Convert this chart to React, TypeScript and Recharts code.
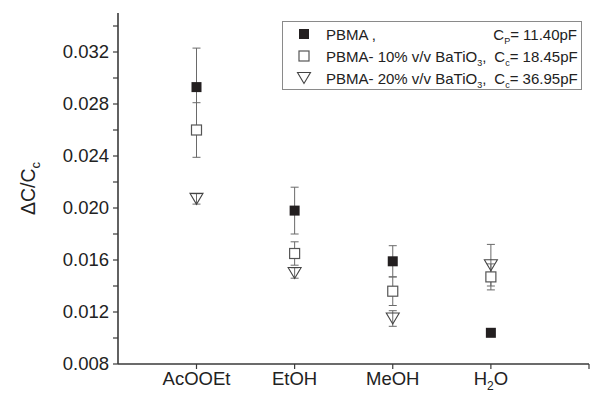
import { ErrorBar, Scatter, ScatterChart, XAxis, YAxis } from "recharts";

// solvent vapours, placed at x = 1..4
const solvents = ["AcOOEt", "EtOH", "MeOH", "H2O"];
const solventX = [1, 2, 3, 4];

// relative capacitance change and its error, per film
const pbma = [0.0293, 0.0198, 0.0159, 0.0104];
const pbmaErr = [0.003, 0.0018, 0.0012, 0];
const bt10 = [0.026, 0.0165, 0.0136, 0.0147];
const bt10Err = [0.0021, 0.0009, 0.0011, 0.001];
const bt20 = [0.0207, 0.015, 0.0115, 0.0156];
const bt20Err = [0.0004, 0.0004, 0.0006, 0.0016];

const yTicks = [0.008, 0.01, 0.012, 0.014, 0.016, 0.018, 0.02, 0.022, 0.024, 0.026, 0.028, 0.03, 0.032, 0.034];
const yLabelled = [0.008, 0.012, 0.016, 0.02, 0.024, 0.028, 0.032];
const xTicks = [1, 2, 3, 4, 5];

const FONT = "'Liberation Sans', Arial, sans-serif";
const AXIS = "#3a3a3a";
const ERR = "#6a6a6a";

const rows = (vals: number[], errs: number[]) =>
  vals.map((v, i) => ({ x: solventX[i], y: v, err: errs[i] }));

const pbmaRows = rows(pbma, pbmaErr);
const bt10Rows = rows(bt10, bt10Err);
const bt20Rows = rows(bt20, bt20Err);

const FilledSquare = ({ cx, cy }: any) => (
  <rect x={cx - 5} y={cy - 5} width={10} height={10} fill="#231f20" />
);

const OpenSquare = ({ cx, cy }: any) => (
  <rect x={cx - 5} y={cy - 5} width={10} height={10} fill="#fff" stroke="#555" strokeWidth={1.2} />
);

// hollow, so its own error bar shows through
const DownTriangle = ({ cx, cy }: any) => (
  <path
    d={`M${cx - 6.5},${cy - 5.5} L${cx + 6.5},${cy - 5.5} L${cx},${cy + 5.5} Z`}
    fill="none"
    stroke="#444"
    strokeWidth={1.1}
  />
);

function XTick({ x, y, payload }: any) {
  const name = solvents[solventX.indexOf(payload.value)];
  if (!name) return null;
  if (name === "H2O") {
    return (
      <text x={x} y={y + 14} textAnchor="middle" fontSize={18.5} fontFamily={FONT} fill="#222">
        H<tspan fontSize={12} dy={5}>2</tspan>
        <tspan dy={-5}>O</tspan>
      </text>
    );
  }
  return (
    <text x={x} y={y + 14} textAnchor="middle" fontSize={18.5} fontFamily={FONT} fill="#222">
      {name}
    </text>
  );
}

function YTick({ x, y, payload }: any) {
  const v = payload.value;
  if (!yLabelled.some((t) => Math.abs(t - v) < 1e-6)) return null;
  return (
    <text x={x} y={y + 6} textAnchor="end" fontSize={18.5} fontFamily={FONT} fill="#222">
      {v.toFixed(3)}
    </text>
  );
}

function YTitle({ viewBox }: any) {
  const cx = 35;
  const cy = viewBox.y + viewBox.height / 2;
  return (
    <text x={cx} y={cy} transform={`rotate(-90 ${cx} ${cy})`} textAnchor="middle" fontSize={19.5} fontFamily={FONT} fill="#222">
      ΔC/C<tspan fontSize={13} dy={5}>c</tspan>
    </text>
  );
}

// legend box drawn over the top-right corner of the plot
function LegendBox() {
  const row = (marker: any, left: any, right: any) => (
    <div style={{ display: "flex", alignItems: "center", height: 22 }}>
      <svg width={43} height={22} style={{ flex: "none" }}>
        {marker}
      </svg>
      <span style={{ flex: 1, whiteSpace: "nowrap" }}>{left}</span>
      <span style={{ whiteSpace: "nowrap", paddingLeft: 8, paddingRight: 4 }}>{right}</span>
    </div>
  );
  const sub = (s: string) => (
    <sub style={{ fontSize: 9, verticalAlign: -4, lineHeight: 0 }}>{s}</sub>
  );
  return (
    <div
      style={{
        position: "absolute",
        left: 282,
        top: 21,
        width: 298,
        height: 66,
        paddingTop: 1,
        border: "1px solid #8a8a8a",
        background: "#fff",
        fontFamily: FONT,
        fontSize: 15,
        color: "#222",
      }}
    >
      {row(<FilledSquare cx={21} cy={11} />, "PBMA ,", <>C{sub("P")}= 11.40pF</>)}
      {row(<OpenSquare cx={21} cy={11} />, <>PBMA- 10% v/v BaTiO{sub("3")},</>, <>C{sub("c")}= 18.45pF</>)}
      {row(<DownTriangle cx={21} cy={11} />, <>PBMA- 20% v/v BaTiO{sub("3")},</>, <>C{sub("c")}= 36.95pF</>)}
    </div>
  );
}

export default function App() {
  return (
    <div style={{ position: "absolute", left: 0, top: 0, width: 590, height: 400, background: "#fff" }}>
      <ScatterChart width={590} height={400} margin={{ top: 13, right: 1, bottom: 0, left: 0 }}>
        <XAxis
          type="number"
          dataKey="x"
          domain={[0.2, 5]}
          ticks={xTicks}
          height={36}
          tickSize={5}
          tick={<XTick />}
          axisLine={{ stroke: AXIS, strokeWidth: 1.6 }}
          tickLine={{ stroke: AXIS, strokeWidth: 1.2 }}
          allowDataOverflow
        />
        <YAxis
          type="number"
          dataKey="y"
          domain={[0.008, 0.035]}
          ticks={yTicks}
          width={118}
          tickSize={5}
          tickMargin={4}
          tick={<YTick />}
          interval={0}
          axisLine={{ stroke: AXIS, strokeWidth: 1.6 }}
          tickLine={{ stroke: AXIS, strokeWidth: 1.2 }}
          label={{ content: (p: any) => <YTitle {...p} /> }}
          allowDataOverflow
        />
        <Scatter data={pbmaRows} shape={<FilledSquare />} isAnimationActive={false}>
          <ErrorBar dataKey="err" direction="y" width={4} stroke={ERR} strokeWidth={1} />
        </Scatter>
        <Scatter data={bt10Rows} shape={<OpenSquare />} isAnimationActive={false}>
          <ErrorBar dataKey="err" direction="y" width={4} stroke={ERR} strokeWidth={1} />
        </Scatter>
        <Scatter data={bt20Rows} shape={<DownTriangle />} isAnimationActive={false}>
          <ErrorBar dataKey="err" direction="y" width={4} stroke={ERR} strokeWidth={1} />
        </Scatter>
      </ScatterChart>
      <LegendBox />
    </div>
  );
}
